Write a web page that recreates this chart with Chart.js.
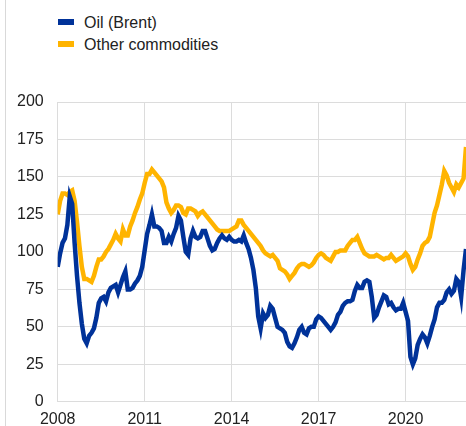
<!DOCTYPE html>
<html>
<head>
<meta charset="utf-8">
<script src="https://cdn.jsdelivr.net/npm/chart.js@4/dist/chart.umd.min.js"></script>
<style>
  html, body { margin: 0; padding: 0; background: #fff; }
  #wrap { position: relative; width: 466px; height: 426px; overflow: hidden; }
  #edge { position: absolute; left: 5px; top: 0; width: 1px; height: 426px; background: #d9d9d9; }
  .leg { position: absolute; left: 58px; font: 16px "Liberation Sans", Arial, sans-serif; color: #222; }
  .leg span { display: inline-block; width: 16px; height: 6px; margin-right: 10px; vertical-align: middle; position: relative; top: -2px; }
  canvas { position: absolute; left: 0; top: 0; }
</style>
</head>
<body>
<div id="wrap">
  <div id="edge"></div>
  <div class="leg" style="top:14px"><span style="background:#003299"></span>Oil (Brent)</div>
  <div class="leg" style="top:36px"><span style="background:#ffb400"></span>Other commodities</div>
  <canvas id="chart" width="466" height="437"></canvas>
</div>
<script>
// monthly index values, Jan 2008 - Feb 2022
const startYear = 2008;
const xTicks = [2008, 2011, 2014, 2017, 2020];

const oil = [
  90, 99, 106, 109, 118, 137, 132, 106, 84, 66, 52, 42,       // 2008
  39, 44, 46, 49, 56, 66, 69, 70, 67, 73, 76, 77,             // 2009
  78, 73, 78, 83, 87, 75, 75, 76, 79, 81, 84, 90,             // 2010
  101, 112, 118, 125, 117, 117, 116, 114, 106, 106, 110, 107, // 2011
  112, 116, 124, 121, 110, 100, 98, 109, 114, 110, 109, 110,  // 2012
  114, 114, 109, 104, 101, 102, 106, 109, 111, 109, 108, 110, // 2013
  108, 107, 107, 108, 107, 111, 106, 102, 96, 88, 76, 57,     // 2014
  49, 59, 56, 58, 64, 62, 56, 50, 49, 48, 46, 40,             // 2015
  37, 36, 39, 43, 48, 50, 46, 45, 49, 50, 50, 55,             // 2016
  57, 56, 54, 52, 50, 48, 50, 53, 58, 60, 64, 66,             // 2017
  67, 67, 68, 74, 78, 76, 76, 80, 81, 80, 70, 56,             // 2018
  58, 63, 67, 71, 70, 65, 66, 63, 61, 62, 62, 66,             // 2019
  60, 54, 30, 25, 29, 38, 42, 45, 43, 39, 44, 50,             // 2020
  55, 63, 66, 66, 68, 73, 75, 72, 74, 82, 80, 70,             // 2021
  88, 102                                                     // 2022
];

const other = [
  125, 134, 139, 139, 138, 140, 141, 134, 120, 104, 90, 82,   // 2008
  82, 81, 80, 84, 90, 95, 95, 97, 100, 102, 105, 108,         // 2009
  112, 109, 107, 115, 111, 111, 117, 121, 126, 130, 135, 139, // 2010
  146, 152, 152, 155, 153, 151, 149, 147, 143, 133, 129, 126, // 2011
  128, 131, 131, 130, 126, 125, 129, 129, 128, 127, 124, 126, // 2012
  127, 125, 123, 121, 119, 117, 115, 114, 114, 114, 114, 114, // 2013
  115, 116, 117, 121, 121, 118, 116, 114, 112, 110, 108, 106, // 2014
  104, 101, 99, 98, 97, 98, 96, 94, 89, 88, 87, 85,           // 2015
  82, 84, 86, 89, 91, 92, 92, 91, 90, 91, 93, 96,             // 2016
  98, 99, 98, 96, 95, 94, 97, 100, 100, 101, 101, 101,        // 2017
  104, 106, 108, 108, 110, 106, 102, 99, 98, 97, 97, 97,      // 2018
  98, 97, 96, 95, 96, 96, 98, 96, 94, 95, 96, 97,             // 2019
  99, 97, 92, 88, 90, 95, 99, 104, 106, 107, 110, 118,        // 2020
  126, 131, 138, 145, 154, 151, 146, 143, 140, 145, 143, 146, // 2021
  149, 170                                                    // 2022
];

// x position of each month as a decimal year
const months = oil.map((v, i) => startYear + i / 12);
const toPoints = arr => arr.map((v, i) => ({ x: months[i], y: v }));

const ctx = document.getElementById('chart').getContext('2d');
Chart.defaults.font.family = '"Liberation Sans", Arial, sans-serif';
Chart.defaults.font.size = 16;
Chart.defaults.color = '#222';

new Chart(ctx, {
  type: 'line',
  data: {
    datasets: [
      { label: 'Oil (Brent)', data: toPoints(oil), borderColor: '#003299', borderWidth: 4.5, pointRadius: 0, tension: 0 },
      { label: 'Other commodities', data: toPoints(other), borderColor: '#ffb400', borderWidth: 4.5, pointRadius: 0, tension: 0 },
    ],
  },
  options: {
    responsive: false,
    animation: false,
    layout: { padding: { top: 102, left: 3, right: 0, bottom: 0 } },
    plugins: { legend: { display: false }, tooltip: { enabled: false } },
    scales: {
      x: {
        type: 'linear',
        min: startYear,
        max: months[months.length - 1],
        afterBuildTicks: scale => { scale.ticks = xTicks.map(v => ({ value: v })); },
        ticks: { padding: 8, maxRotation: 0, autoSkip: false, callback: v => String(v) },
        grid: { color: '#dcdcdc', lineWidth: 1, drawTicks: false },
        border: { color: '#dcdcdc' },
      },
      y: {
        min: 0,
        max: 200,
        ticks: { stepSize: 25, padding: 14 },
        grid: { color: '#dcdcdc', lineWidth: 1, drawTicks: false },
        border: { display: false },
      },
    },
  },
});
</script>
</body>
</html>
